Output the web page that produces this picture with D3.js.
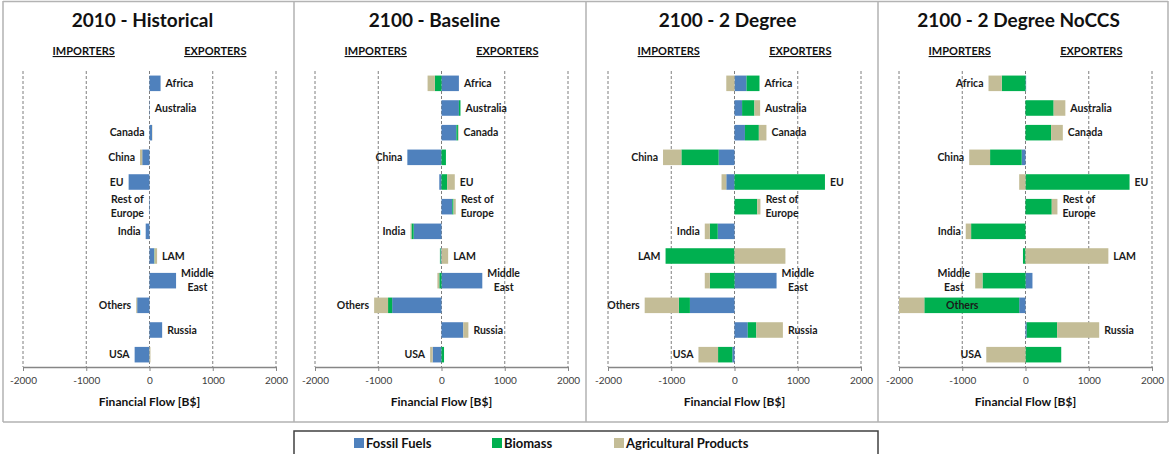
<!DOCTYPE html>
<html>
<head>
<meta charset="utf-8">
<script src="https://cdn.jsdelivr.net/npm/d3@7"></script>
<style>
  body { margin: 0; background: #fff; }
  svg { display: block; }
  text { font-family: Lato, "Open Sans", "DejaVu Sans", sans-serif; }
</style>
</head>
<body>
<svg id="chart" width="1169" height="454"></svg>
<script>
// ---------------- DATA ----------------
const regions = ["Africa", "Australia", "Canada", "China", "EU", "Rest of Europe",
                 "India", "LAM", "Middle East", "Others", "Russia", "USA"];
const regionLabels = [["Africa"], ["Australia"], ["Canada"], ["China"], ["EU"], ["Rest of", "Europe"],
                      ["India"], ["LAM"], ["Middle", "East"], ["Others"], ["Russia"], ["USA"]];
const commodities = ["Fossil Fuels", "Biomass", "Agricultural Products"];
const scenarios = ["2010 - Historical", "2100 - Baseline", "2100 - 2 Degree", "2100 - 2 Degree NoCCS"];

// values in B$ (positive = export, negative = import), region order as above
const fossil2010   = [175, 5, 40, -115, -330, -8, -60, 75, 420, -195, 200, -235];
const biomass2010  = [0, 0, 0, 0, 0, 0, 0, 5, 0, 0, 0, 0];
const agri2010     = [0, 0, 5, -35, 0, 0, 0, 40, 0, -15, 0, 15];

const fossilBase   = [275, 275, 235, -540, -35, 170, -440, -15, 645, -780, 345, -140];
const biomassBase  = [-105, 25, 25, 70, 90, 20, -35, -10, -35, -65, 0, 40];
const agriBase     = [-115, 0, 10, 0, 120, 35, -15, 105, -30, -220, 80, -40];

const fossil2D     = [190, 120, 165, -250, -130, 0, -265, 0, 665, -705, 210, -35];
const biomass2D    = [205, 195, 220, -590, 1430, 360, -125, -1090, -390, -175, 135, -225];
const agri2D       = [-130, 90, 120, -290, -75, 50, -80, 805, -80, -540, 420, -310];

const fossilNoCCS  = [10, 0, 0, -60, 0, 0, 0, 0, 110, -100, 20, 0];
const biomassNoCCS = [-375, 445, 405, -500, 1645, 415, -860, -40, -680, -1500, 480, 565];
const agriNoCCS    = [-210, 185, 185, -330, -100, 90, -85, 1310, -115, -400, 665, -620];

const xTicks = [-2000, -1000, 0, 1000, 2000];
const tickLabels = ["-2000", "-1000", "0", "1000", "2000"];

// label side per panel: R = right of exports, L = left of imports, I = inside import bar
const labelSides2010  = ["R","R","L","L","L","L","L","R","R","L","R","L"];
const labelSidesBase  = ["R","R","R","L","R","R","L","R","R","L","R","L"];
const labelSides2D    = ["R","R","R","L","R","R","L","L","R","L","R","L"];
const labelSidesNoCCS = ["L","R","R","L","R","R","L","R","L","I","R","L"];

const panelData = [
  [fossil2010, biomass2010, agri2010, labelSides2010],
  [fossilBase, biomassBase, agriBase, labelSidesBase],
  [fossil2D, biomass2D, agri2D, labelSides2D],
  [fossilNoCCS, biomassNoCCS, agriNoCCS, labelSidesNoCCS]
];

// ---------------- STYLE / LAYOUT ----------------
const colors = ["#4F81BD", "#00B050", "#C4BD97"];
const plotRanges = [[23, 276], [315, 568], [608, 861], [899, 1152]];
const frameX = [3, 294, 586, 878, 1168];
const plotTop = 71, plotBottom = 367;

const svg = d3.select("#chart");

// panel frames
svg.append("path")
  .attr("d", `M${frameX[0]},1.5 H${frameX[4]} M${frameX[0]},422 H${frameX[4]}` +
             frameX.map(x => `M${x},1 V422`).join(""))
  .attr("fill", "none").attr("stroke", "#b3b3b3").attr("stroke-width", 1.5);

const y = d3.scaleBand().domain(regions).range([plotTop, plotBottom]).paddingInner(0.37).paddingOuter(0.185);

const stack = d3.stack().keys([0, 1, 2]).offset(d3.stackOffsetDiverging);

scenarios.forEach((title, p) => {
  const [f, b, a, sides] = panelData[p];
  const x = d3.scaleLinear().domain([-2000, 2000]).range(plotRanges[p]);
  const g = svg.append("g");

  // title
  g.append("text").attr("x", x(0) - 7).attr("y", 27)
    .attr("text-anchor", "middle").attr("font-size", 19).attr("font-weight", 700)
    .attr("fill", "#111").text(title);

  // importers / exporters
  [["IMPORTERS", -1040], ["EXPORTERS", 1040]].forEach(([t, v]) => {
    g.append("text").attr("x", x(v)).attr("y", 55)
      .attr("text-anchor", "middle").attr("font-size", 11).attr("font-weight", 700)
      .attr("text-decoration", "underline").attr("fill", "#111").text(t);
  });

  // dashed grid lines
  g.selectAll(".grid").data(xTicks).join("line")
    .attr("x1", d => x(d)).attr("x2", d => x(d))
    .attr("y1", plotTop).attr("y2", plotBottom)
    .attr("stroke", "#7f7f7f").attr("stroke-width", 1).attr("stroke-dasharray", "3,2");

  // data rows
  const rows = regions.map((r, i) => ({ region: r, 0: f[i], 1: b[i], 2: a[i] }));
  const series = stack(rows);

  series.forEach((s, k) => {
    g.append("g").attr("fill", colors[k])
      .selectAll("rect").data(s).join("rect")
      .attr("x", d => x(Math.min(d[0], d[1])))
      .attr("width", d => Math.abs(x(d[1]) - x(d[0])))
      .attr("y", d => y(d.data.region))
      .attr("height", y.bandwidth());
  });

  // axis
  const axis = d3.axisBottom(x).tickValues(xTicks).tickFormat((d, i) => tickLabels[i])
    .tickSize(4).tickSizeOuter(0);
  const ax = g.append("g").attr("transform", `translate(0,${plotBottom})`).call(axis);
  ax.select(".domain").attr("stroke", "#868686").attr("stroke-width", 1.3);
  ax.selectAll(".tick line").attr("stroke", "#868686");
  ax.selectAll(".tick text").attr("font-family", "Lato, sans-serif").attr("font-size", 10)
    .attr("fill", "#404040").attr("dy", "0.95em");

  g.append("text").attr("x", x(0)).attr("y", 406)
    .attr("text-anchor", "middle").attr("font-size", 12).attr("font-weight", 700)
    .attr("fill", "#111").text("Financial Flow [B$]");

  // region labels
  regions.forEach((r, i) => {
    const vals = [f[i], b[i], a[i]];
    const pos = d3.sum(vals.filter(v => v > 0));
    const neg = d3.sum(vals.filter(v => v < 0));
    const lines = regionLabels[i];
    const cy = y(r) + y.bandwidth() / 2;
    const t = g.append("text").attr("font-size", 10.5).attr("font-weight", 700)
      .attr("fill", "#1a1a1a").attr("text-anchor", "middle");
    const spans = lines.map((ln, j) => t.append("tspan").text(ln)
      .attr("y", cy + (j - (lines.length - 1) / 2) * 14)
      .attr("dy", "0.35em"));
    const w = d3.max(spans, s => s.node().getComputedTextLength());
    let cx;
    if (sides[i] === "R") cx = x(pos) + 5 + w / 2;
    else if (sides[i] === "L") cx = x(neg) - 5 - w / 2;
    else cx = x(neg / 2);
    spans.forEach(s => s.attr("x", cx));
  });
});

// legend
const lg = svg.append("g");
lg.append("rect").attr("x", 294).attr("y", 431).attr("width", 584).attr("height", 30)
  .attr("fill", "#fff").attr("stroke", "#404040").attr("stroke-width", 1.5);
const legendX = [354, 492, 614];
commodities.forEach((c, k) => {
  lg.append("rect").attr("x", legendX[k]).attr("y", 438).attr("width", 10).attr("height", 10)
    .attr("fill", colors[k]);
  lg.append("text").attr("x", legendX[k] + 12).attr("y", 443).attr("dy", "0.35em")
    .attr("font-size", 13).attr("font-weight", 700).attr("fill", "#111").text(c);
});
</script>
</body>
</html>
